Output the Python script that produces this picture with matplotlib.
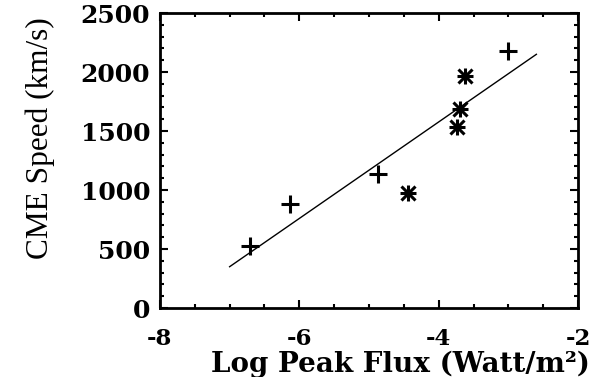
import matplotlib
matplotlib.use('Agg')
import matplotlib.pyplot as plt
import numpy as np
from matplotlib.ticker import MultipleLocator

plt.rcParams['axes.unicode_minus'] = False

# flares with '+' symbol
plus_x = [-6.71, -6.13, -4.87, -3.00]
plus_y = [525, 880, 1135, 2175]

# flares with asterisk symbol
star_x = [-4.44, -3.74, -3.70, -3.62]
star_y = [977, 1533, 1686, 1965]

# linear fit drawn across the data
fit_x = [-7.0, -2.6]
fit_y = [350, 2150]

xticks = [-8, -6, -4, -2]
yticks = [0, 500, 1000, 1500, 2000, 2500]

wide = 'DejaVu Serif'
serif = 'Liberation Serif'

fig = plt.figure(figsize=(6.08, 3.77), dpi=100)
ax = fig.add_axes([0.263, 0.183, 0.688, 0.7825])

ax.plot(fit_x, fit_y, color='black', lw=1.0)
ax.plot(plus_x, plus_y, ls='none', marker='+', ms=13, mew=2.2, color='black')
ax.plot(star_x, star_y, ls='none', marker='+', ms=12, mew=2.2, color='black')
ax.plot(star_x, star_y, ls='none', marker='x', ms=10, mew=2.2, color='black')

ax.set_xlim(-8, -2)
ax.set_ylim(0, 2500)
ax.set_xticks(xticks)
ax.set_yticks(yticks)
ax.xaxis.set_minor_locator(MultipleLocator(0.5))
ax.yaxis.set_minor_locator(MultipleLocator(100))
ax.tick_params(which='both', direction='in', top=True, right=True, width=1.5)
ax.tick_params(which='major', length=6)
ax.tick_params(which='minor', length=3)
ax.tick_params(axis='x', pad=14.5)
ax.tick_params(axis='y', pad=7)
for s in ax.spines.values():
    s.set_linewidth(2)

for lab in ax.get_xticklabels():
    lab.set_family(wide)
    lab.set_weight('bold')
    lab.set_fontsize(16.5)
for lab in ax.get_yticklabels():
    lab.set_family(wide)
    lab.set_weight('bold')
    lab.set_fontsize(18)

ax.set_xlabel('Log Peak Flux (Watt/m²)', family=wide, weight='bold', fontsize=20)
ax.xaxis.label.set_va('baseline')
ax.xaxis.set_label_coords(0.574, -0.216)
ax.set_ylabel('CME Speed (km/s)', family=serif, fontsize=22.5)
ax.yaxis.set_label_coords(-0.25, 0.575)

plt.savefig('out.png', dpi=100)
